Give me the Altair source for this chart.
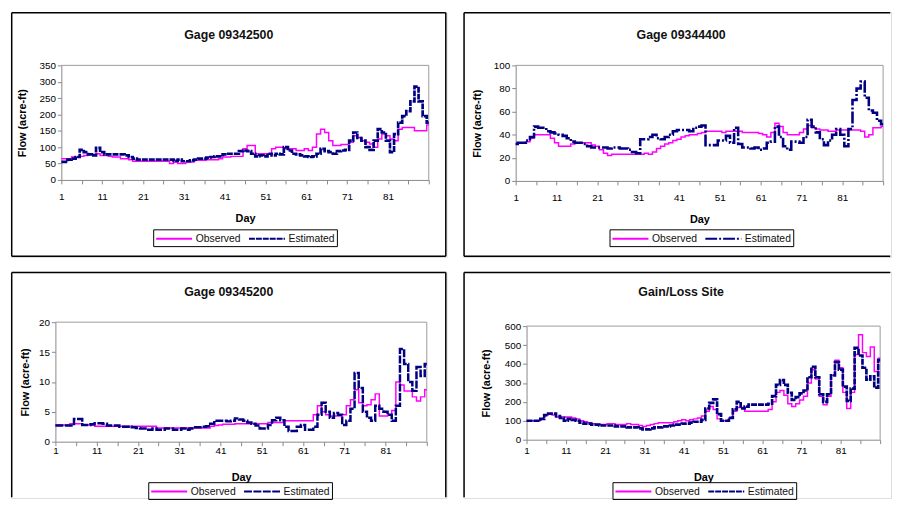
import altair as alt
import pandas as pd

days = list(range(1, 92))

obs1 = [65, 65, 65, 70, 70, 72, 75, 78, 78, 80,
        75, 75, 72, 70, 70, 65, 65, 62,
        57, 57, 57, 57, 57, 57, 57, 57, 57,
        50, 55, 50, 50, 55, 55,
        60, 60, 60, 62, 62, 62, 65,
        70, 70, 72, 72, 72, 95, 105, 105,
        80, 80, 80, 80, 95, 100, 100, 95,
        95, 95, 90, 90, 95, 90,
        100, 140, 155, 145, 120, 105, 105, 108,
        108, 115, 135, 130, 120, 115, 110, 100,
        125, 140, 135, 125, 120,
        155, 160, 160, 160, 150, 150, 150, 168]
est1 = [55, 55, 62, 65, 70,
        92, 85, 78, 75, 98, 85,
        78, 78, 78, 78, 78, 75, 70, 65,
        62, 62, 62, 62, 62, 62, 62, 62, 62,
        58, 62, 57, 57, 60, 62, 65, 65, 68, 70, 72, 72,
        78, 80, 80, 80, 88, 90, 88, 80, 72, 75, 72, 80,
        75, 80, 78, 100, 90, 80, 78, 75, 72, 70,
        72, 80, 95, 88, 85,
        80, 88, 90, 92, 120, 145, 128,
        120, 100, 92, 120, 155, 145, 120,
        85, 140, 175, 195, 210, 240,
        285, 240, 195, 175]

obs2 = [32, 33, 33, 34, 37, 40, 40, 40, 40,
        37, 33, 30, 30, 30, 32, 33, 33, 33, 33,
        31, 30, 27, 24, 22, 23, 23, 23, 23, 23, 23,
        23, 23, 24, 23, 25, 28, 30, 32, 33, 35,
        36, 38, 39, 40, 40, 41, 42, 43, 43, 43, 43, 42,
        43, 43, 43, 43, 42, 42, 42, 42, 41, 40,
        38, 42, 50, 47, 42, 40, 40, 40,
        42, 45, 48, 46, 45,
        44, 44, 43, 43, 44, 44, 44, 44, 44,
        44, 43, 38, 40, 46, 46, 47]
est2 = [32, 33, 33, 35, 38, 47, 46, 46, 43, 42, 41,
        40, 39, 37, 34, 33, 33, 32,
        30, 29, 29, 29, 29, 28, 29, 29, 28, 28,
        27, 25, 24, 36, 36, 38, 40, 37,
        36, 38, 40, 43, 44, 44, 44, 43, 46, 47, 48,
        31, 31, 31, 35, 35, 39, 33, 46, 32, 29, 29,
        28, 29, 27, 28, 33, 34, 47, 38, 30, 27,
        34, 34, 33, 38, 53, 47, 42, 36, 31, 35, 40, 45, 40, 30, 45,
        70, 80, 86, 72, 61, 59, 52, 49]

obs3 = [2.8, 2.8, 2.8, 2.8, 3.0, 3.0, 3.0, 2.8, 2.8, 2.8,
        2.6, 2.6, 2.6, 2.6, 2.6, 2.6, 2.6, 2.6, 2.6, 2.6, 2.6, 2.6, 2.6, 2.6, 2.6,
        2.3, 2.3, 2.3, 2.3, 2.3, 2.3, 2.3, 2.3, 2.3, 2.3, 2.3, 2.3, 2.3,
        2.6, 2.7, 2.8, 2.9, 2.9, 2.9, 3.0,
        3.0, 3.0, 3.0, 3.0, 3.0, 3.0, 3.0,
        3.2, 3.2, 3.2, 3.2,
        3.5, 3.5, 3.5, 3.5, 3.5, 3.5, 3.5,
        4.5, 6.0, 5.0, 4.5, 4.3, 4.3, 4.3, 4.5,
        6.0, 7.0, 8.7, 6.5, 6.0, 6.2, 7.0, 8.0, 4.3, 4.3,
        4.5, 5.2, 10.0, 9.5, 8.5, 8.5, 7.5, 6.8, 7.5, 8.7]
est3 = [2.7, 2.7, 2.7, 2.7, 2.7, 3.8, 3.8, 2.8, 2.8, 2.9,
        3.1, 3.1, 3.0, 2.7, 2.7, 2.7, 2.5, 2.5, 2.5, 2.4,
        2.3, 2.2, 2.2, 2.0, 2.2, 2.0, 2.0, 2.2, 2.2, 2.0, 2.0, 2.2, 2.0, 2.2, 2.4,
        2.4, 2.5, 2.6, 3.0,
        3.5, 3.5, 3.5, 3.4, 3.5, 3.9, 3.7, 3.5, 3.2,
        3.0, 2.7, 2.2, 2.2,
        2.8, 3.6, 4.0, 3.6, 2.5,
        1.8, 1.8, 2.5, 2.8, 2.0, 2.0, 2.5,
        4.5, 6.5, 5.0, 4.0, 4.8, 4.5, 2.8, 3.5,
        5.5, 11.5, 9.0, 5.0, 4.0, 3.5, 6.0, 5.5, 5.0, 4.5, 3.5, 6.0,
        15.5, 13.0, 10.0, 8.5, 12.5, 11.0, 13.0]

obs4 = [100, 100, 100, 100, 110, 130, 135, 130, 120,
        120, 120, 120, 115, 110, 100, 95, 90, 85,
        80, 80, 80, 85, 85, 80, 80, 80, 85, 80, 80, 75,
        70, 75, 80, 85, 90, 90, 90, 90, 95, 100,
        105, 100, 105, 110, 115,
        125, 150, 175, 160, 110, 100, 100, 115, 150, 170, 170,
        150, 150, 150, 150, 150, 150, 160,
        200, 250, 260, 235, 190, 175, 190, 210, 230, 300,
        370, 320, 230, 185, 230, 340, 420, 380, 250, 165,
        250, 450, 555, 460, 440, 490, 360, 430]
est4 = [100, 100, 100, 100, 110, 130, 138, 138, 125,
        115, 100, 110, 105, 100, 90, 85, 85, 80, 80,
        75, 75, 75, 75, 70, 70, 70, 65, 65, 65, 60,
        55, 55, 60, 65, 65, 70, 70, 75, 80, 80,
        85, 85, 90, 95, 95,
        105, 165, 195, 213, 135, 100, 100, 115, 160, 200,
        165, 175, 185, 185, 185, 185, 185, 190,
        230, 290, 315, 290, 248, 210, 225, 245, 260, 330,
        385, 330, 240, 200, 240, 340, 410, 370, 280, 205,
        270, 485, 445, 380, 317, 335, 275, 420]

titles = ["Gage 09342500", "Gage 09344400", "Gage 09345200", "Gain/Loss Site"]
series_names = ["Observed", "Estimated"]

FONT = "Liberation Sans"


def rule(x1, x2, y1, y2, color, width):
    enc = dict(x=alt.value(x1), y=alt.value(y1))
    if x2 != x1:
        enc["x2"] = alt.value(x2)
    if y2 != y1:
        enc["y2"] = alt.value(y2)
    return alt.Chart(pd.DataFrame({"a": [0]})).mark_rule(
        color=color, strokeWidth=width).encode(**enc)


def panel(title, obs, est, ymax, ystep, W, H, L, T, FW, FH, edges, dash, est_w,
          lx, ly, tdy, lab_pad, day_y, ytx):
    """Each panel's view is its whole frame; the plot sits inside via scale ranges."""
    assert len(obs) == 91 and len(est) == 91
    df = pd.DataFrame({
        "day": days + days,
        "flow": obs + est,
        "series": ["Observed"] * 91 + ["Estimated"] * 91,
    })
    B = FH - T - H
    xenc = alt.X("day:Q",
                 scale=alt.Scale(domain=[1, 91], nice=False, zero=False, range=[L, L + W]),
                 axis=alt.Axis(values=list(range(1, 92, 5)),
                               labelExpr="((datum.value - 1) % 10 == 0 && datum.value < 90) ? datum.label : ''",
                               tickSize=4, labelPadding=lab_pad, labelFlush=False,
                               labelOverlap=False, title="Day", titleX=L + W / 2,
                               titleY=day_y, titleBaseline="middle", grid=False,
                               offset=-B))
    yenc = alt.Y("flow:Q",
                 scale=alt.Scale(domain=[0, ymax], nice=False, range=[T + H, T]),
                 axis=alt.Axis(values=list(range(0, ymax + 1, ystep)),
                               tickSize=4, labelPadding=2, labelOverlap=False,
                               title="Flow (acre-ft)", titleX=ytx, titleY=T + H / 2,
                               titleBaseline="middle", grid=False, offset=-L))
    color = alt.Color("series:N",
                      scale=alt.Scale(domain=series_names, range=["#FF00FF", "#000080"]),
                      legend=alt.Legend(orient="none", legendX=L + lx, legendY=T + ly,
                                        direction="horizontal", title=None,
                                        strokeColor="black", padding=2,
                                        symbolType="M-1,0H4.6", symbolSize=169,
                                        symbolStrokeWidth=2, labelFontSize=10.5,
                                        labelOffset=26, columnPadding=4,
                                        labelColor="#111", labelFont=FONT))
    sdash = alt.StrokeDash("series:N",
                           scale=alt.Scale(domain=series_names, range=[[1, 0], dash]))
    base = alt.Chart(df)
    obs_line = base.transform_filter(alt.datum.series == "Observed").mark_line(
        interpolate="step", strokeWidth=1.5).encode(
        x=xenc, y=yenc, color=color, strokeDash=sdash)
    est_line = base.transform_filter(alt.datum.series == "Estimated").mark_line(
        interpolate="step", strokeWidth=est_w).encode(
        x=xenc, y=yenc, color=color, strokeDash=sdash)
    ttl = alt.Chart(pd.DataFrame({"t": [title]})).mark_text(
        font=FONT, fontSize=12.5, fontWeight="bold", align="center",
        baseline="middle", color="#111").encode(
        x=alt.value(220.5), y=alt.value(T + tdy), text="t:N")
    layers = [
        # grey plot-area border (top and right)
        rule(L, L + W, T, T, "#9a9a9a", 1),
        rule(L + W, L + W, T, T + H, "#9a9a9a", 1),
        obs_line, est_line, ttl,
        # black frame: top and left always, right/bottom where visible
        rule(0.75, FW - 0.75, 0.75, 0.75, "black", 1.5),
        rule(0.75, 0.75, 0.75, FH - 0.75, "black", 1.5),
    ]
    if "r" in edges:
        layers.append(rule(FW - 0.75, FW - 0.75, 0.75, FH - 0.75, "black", 1.5))
    if "b" in edges:
        layers.append(rule(0.75, FW - 0.75, FH - 0.75, FH - 0.75, "black", 1.5))
    return alt.layer(*layers).properties(width=FW, height=FH)


p1 = panel(titles[0], obs1, est1, 350, 50, 372, 116, 51, 54, 441, 248, "rb",
           [6, 1], 2.7, 93, 166, -31, 7.5, 39, -39)
p2 = panel(titles[1], obs2, est2, 100, 20, 372, 117, 53, 54, 433, 248, "b",
           [12, 2, 2, 2], 2.6, 95, 166, -31, 8, 39, -39)
p3 = panel(titles[2], obs3, est3, 20, 5, 376, 121, 45, 51, 441, 229, "r",
           [8, 1.5], 2.5, 94, 162, -31, 0, 36, -30)
p4 = panel(titles[3], obs4, est4, 600, 100, 358, 115, 64, 55, 433, 229, "",
           [6, 1], 2.7, 87, 158, -35, 1.5, 38.5, -41)

chart = alt.concat(
    p1, p2, p3, p4, columns=2, align="each",
    spacing={"row": 13, "column": 15},
).resolve_scale(
    color="independent", strokeDash="independent"
).resolve_legend(
    color="independent", strokeDash="independent"
).properties(
    padding={"left": 2, "top": 0, "right": 0, "bottom": 0}
).configure_view(
    strokeOpacity=0
).configure_axis(
    labelFont=FONT, titleFont=FONT, labelFontSize=10.5, titleFontSize=11,
    titleFontWeight="bold", labelColor="#333", titleColor="#111",
    domainColor="black", tickColor="black", domainWidth=1, tickWidth=1
).configure(font=FONT)

chart.save("out.html", embed_options={"renderer": "svg", "actions": False})
